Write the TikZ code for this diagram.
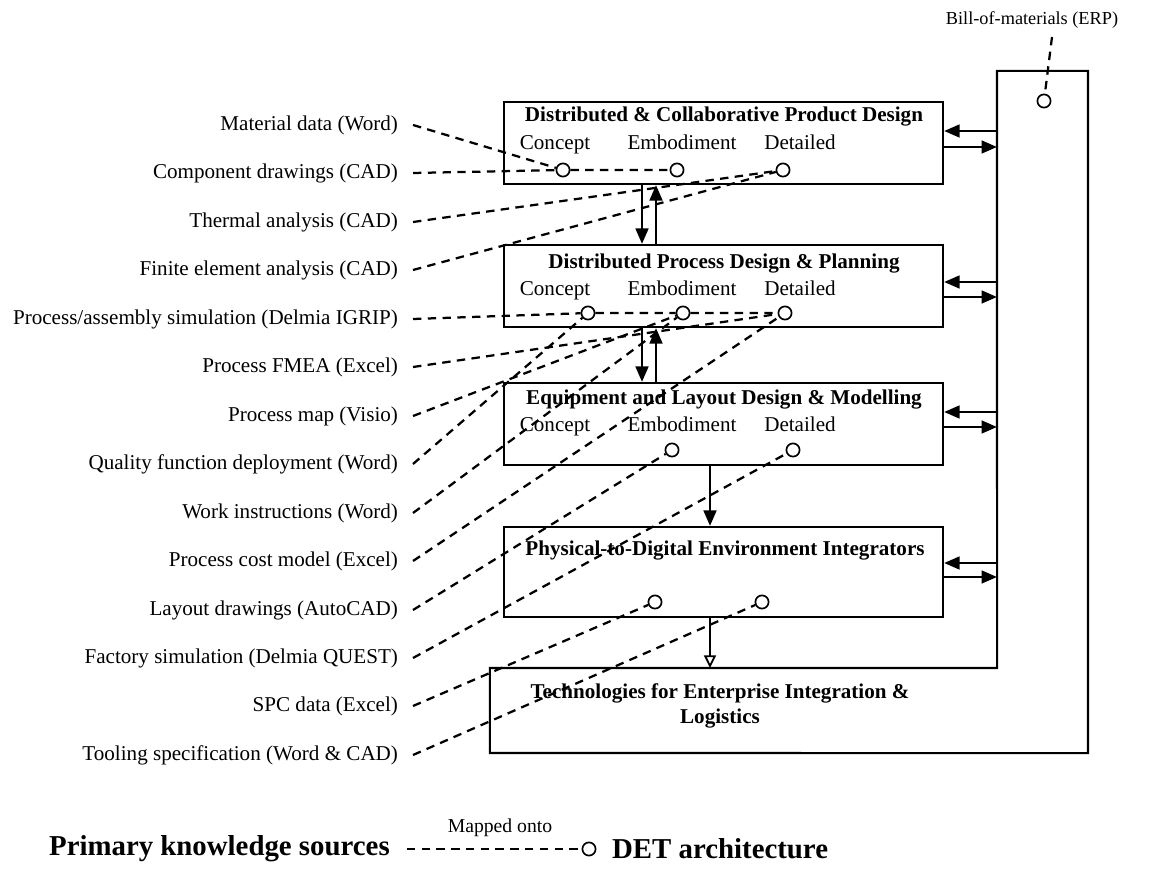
\documentclass[tikz,border=0pt]{standalone}
\usepackage{fontspec}
\setmainfont{Liberation Serif}
\usetikzlibrary{arrows.meta}

\begin{document}
\begin{tikzpicture}[x=0.025cm, y=-0.025cm,
    every node/.style={font=\fontsize{15}{18}\selectfont},
    stage/.style={draw, line width=1.5pt, minimum width=10.975cm, minimum height=2.05cm, inner sep=0},
    ttl/.style={anchor=base, font=\bfseries\fontsize{15}{18}\selectfont},
    lvl/.style={anchor=base},
    src/.style={anchor=east, inner xsep=10.5pt, inner ysep=1pt},
    port/.style={circle, draw, fill=white, line width=1.2pt, minimum size=0.33cm, inner sep=0},
    map/.style={line width=1.6pt, dash pattern=on 6pt off 4.5pt},
    flow/.style={line width=1.9pt, -{Triangle[length=11pt,width=9pt]}},
    key/.style={font=\bfseries\fontsize{20.5}{24}\selectfont, inner xsep=12pt}]
    \useasboundingbox (0,0) rectangle (1164,872);

    % DET stages
    \node[stage] (b1) at (723.5,143) {};
    \node[stage] (b2) at (723.5,286) {};
    \node[stage] (b3) at (723.5,424) {};
    \node[stage, minimum height=2.25cm] (b4) at (723.5,572) {};
    \node[minimum width=12.675cm, minimum height=2.125cm, inner sep=0, outer sep=0] (b5) at (743.5,710.5) {};
    \node[minimum width=2.275cm, minimum height=17.05cm, inner sep=0, outer sep=0] (erpcol) at (1042.5,412) {};
    \draw[line width=1.5pt] (b5.north west) -- (b5.north east) -- (erpcol.north west) -- (erpcol.north east)
        -- (erpcol.south east) -- (b5.south west) -- cycle;

    \node[ttl] (t1) at (724,122) {Distributed \& Collaborative Product Design};
    \node[lvl] (cn1) at (555,150) {Concept};
    \node[lvl] (em1) at (682,150) {Embodiment};
    \node[lvl] (dt1) at (800,150) {Detailed};
    \node[ttl] (t2) at (724,269) {Distributed Process Design \& Planning};
    \node[lvl] (cn2) at (555,296) {Concept};
    \node[lvl] (em2) at (682,296) {Embodiment};
    \node[lvl] (dt2) at (800,296) {Detailed};
    \node[ttl] (t3) at (724,405) {Equipment and Layout Design \& Modelling};
    \node[lvl] (cn3) at (555,432) {Concept};
    \node[lvl] (em3) at (682,432) {Embodiment};
    \node[lvl] (dt3) at (800,432) {Detailed};
    \node[ttl] (t4) at (725,555) {Physical-to-Digital Environment Integrators};
    \node[font=\bfseries\fontsize{15}{17.8}\selectfont, align=center] (t5) at (720,706)
        {Technologies for Enterprise Integration \&\\Logistics};

    % mapping points
    \node[port] (pc1) at (563,170) {};
    \node[port] (pe1) at (677,170) {};
    \node[port] (pd1) at (783,170) {};
    \node[port] (pc2) at (588,313) {};
    \node[port] (pe2) at (683,313) {};
    \node[port] (pd2) at (785,313) {};
    \node[port] (pe3) at (672,450) {};
    \node[port] (pd3) at (793,450) {};
    \node[port] (pa4) at (655,602) {};
    \node[port] (pb4) at (762,602) {};
    \node[port] (perp) at (1044,101) {};

    % stage flows
    \coordinate (dn) at (642,0);
    \coordinate (up) at (656,0);
    \coordinate (mid) at (710,0);
    \draw[flow] (b1.south -| dn) -- (b2.north -| dn);
    \draw[flow] (b2.north -| up) -- (b1.south -| up);
    \draw[flow] (b2.south -| dn) -- (b3.north -| dn);
    \draw[flow] (b3.north -| up) -- (b2.south -| up);
    \draw[flow] (b3.south -| mid) -- (b4.north -| mid);
    \draw[line width=1.3pt, -{Triangle[open,length=9pt,width=8.5pt]}] (b4.south -| mid) -- (b5.north -| mid);
    \draw[flow] (erpcol.west |- 0,131) -- (b1.east |- 0,131);
    \draw[flow] (b1.east |- 0,147) -- (erpcol.west |- 0,147);
    \draw[flow] (erpcol.west |- 0,282) -- (b2.east |- 0,282);
    \draw[flow] (b2.east |- 0,297) -- (erpcol.west |- 0,297);
    \draw[flow] (erpcol.west |- 0,412) -- (b3.east |- 0,412);
    \draw[flow] (b3.east |- 0,427) -- (erpcol.west |- 0,427);
    \draw[flow] (erpcol.west |- 0,563) -- (b4.east |- 0,563);
    \draw[flow] (b4.east |- 0,577) -- (erpcol.west |- 0,577);

    % knowledge sources
    \node[src] (s0) at (413,125) {Material data (Word)};
    \node[src] (s1) at (413,173) {Component drawings (CAD)};
    \node[src] (s2) at (413,222) {Thermal analysis (CAD)};
    \node[src] (s3) at (413,270) {Finite element analysis (CAD)};
    \node[src] (s4) at (413,319) {Process/assembly simulation (Delmia IGRIP)};
    \node[src] (s5) at (413,367) {Process FMEA (Excel)};
    \node[src] (s6) at (413,416) {Process map (Visio)};
    \node[src] (s7) at (413,464) {Quality function deployment (Word)};
    \node[src] (s8) at (413,513) {Work instructions (Word)};
    \node[src] (s9) at (413,561) {Process cost model (Excel)};
    \node[src] (s10) at (413,610) {Layout drawings (AutoCAD)};
    \node[src] (s11) at (413,658) {Factory simulation (Delmia QUEST)};
    \node[src] (s12) at (413,706) {SPC data (Excel)};
    \node[src] (s13) at (413,755) {Tooling specification (Word \& CAD)};
    \node[font=\fontsize{13}{16}\selectfont] (erplbl) at (1032,20) {Bill-of-materials (ERP)};
    \coordinate (erptip) at (1052,37);

    \draw[map] (s0.east) -- (pc1);
    \draw[map] (s1.east) -- (pc1) (pc1) -- (pe1);
    \draw[map] (s2.east) -- (pd1);
    \draw[map] (s3.east) -- (pd1);
    \draw[map] (s4.east) -- (pc2) (pc2) -- (pe2) (pe2) -- (pd2);
    \draw[map] (s5.east) -- (pd2);
    \draw[map] (s6.east) -- (pe2);
    \draw[map] (s7.east) -- (pc2);
    \draw[map] (s8.east) -- (pe2);
    \draw[map] (s9.east) -- (pd2);
    \draw[map] (s10.east) -- (pe3);
    \draw[map] (s11.east) -- (pd3);
    \draw[map] (s12.east) -- (pa4);
    \draw[map] (s13.east) -- (pb4);
    \draw[map] (erptip) -- (perp);

    % key
    \node[key, anchor=west] (known) at (32,849) {Primary knowledge sources};
    \node[port] (keyc) at (589,849) {};
    \node[key, anchor=west] (det) at (595,849) {DET architecture};
    \node[font=\fontsize{14}{17}\selectfont] (mapped) at (500,828) {Mapped onto};
    \draw[map] (known.east) -- (keyc);
  \end{tikzpicture}
\end{document}
